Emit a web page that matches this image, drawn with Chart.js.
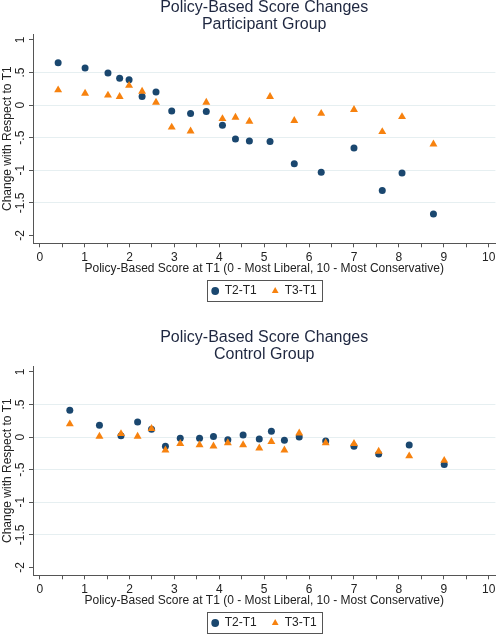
<!DOCTYPE html>
<html>
<head>
<meta charset="utf-8">
<script src="https://cdn.jsdelivr.net/npm/chart.js@4"></script>
<style>
html, body { margin: 0; padding: 0; background: #fff; width: 500px; height: 636px; overflow: hidden; }
.panel { position: absolute; left: 0; width: 500px; height: 345px; }
#p1 { top: -28px; }
#p2 { top: 304px; }
</style>
</head>
<body>
<div class="panel" id="p1"><canvas id="c1" width="500" height="345"></canvas></div>
<div class="panel" id="p2"><canvas id="c2" width="500" height="345"></canvas></div>
<script>
// participant group (top panel)
const partScore = [0.41, 1.01, 1.52, 1.78, 1.99, 2.28, 2.59, 2.94, 3.36, 3.71, 4.07, 4.36, 4.67, 5.13, 5.67, 6.27, 7.00, 7.63, 8.07, 8.77]
const partT2 = [0.65, 0.57, 0.49, 0.41, 0.39, 0.13, 0.20, -0.09, -0.13, -0.10, -0.31, -0.52, -0.55, -0.56, -0.90, -1.03, -0.66, -1.31, -1.04, -1.67]
const partT3 = [0.23, 0.18, 0.15, 0.13, 0.30, 0.21, 0.04, -0.34, -0.40, 0.04, -0.21, -0.19, -0.25, 0.13, -0.24, -0.13, -0.07, -0.41, -0.18, -0.60]

// control group (bottom panel)
const ctrlScore = [0.67, 1.33, 1.81, 2.18, 2.49, 2.80, 3.13, 3.56, 3.87, 4.19, 4.53, 4.89, 5.16, 5.45, 5.78, 6.37, 7.00, 7.55, 8.23, 9.01]
const ctrlT2 = [0.41, 0.18, 0.02, 0.23, 0.12, -0.14, -0.02, -0.02, 0.01, -0.04, 0.03, -0.03, 0.09, -0.05, 0.00, -0.06, -0.14, -0.26, -0.12, -0.42]
const ctrlT3 = [0.20, 0.01, 0.05, 0.01, 0.13, -0.20, -0.10, -0.12, -0.14, -0.09, -0.12, -0.17, -0.07, -0.20, 0.06, -0.09, -0.10, -0.22, -0.29, -0.36]

const xTicks = [0, 0.5, 1, 1.5, 2, 2.5, 3, 3.5, 4, 4.5, 5, 5.5, 6, 6.5, 7, 7.5, 8, 8.5, 9, 9.5, 10]
const xTickLabels = ['0', '', '1', '', '2', '', '3', '', '4', '', '5', '', '6', '', '7', '', '8', '', '9', '', '10']
const yTicks = [-2, -1.5, -1, -0.5, 0, 0.5, 1]
const yTickLabels = ['-2', '-1.5', '-1', '-.5', '0', '.5', '1']

const FONT = "'Liberation Sans', Arial, sans-serif"
const NAVY = '#1a476f'
const ORANGE = '#f7820f'
const AXIS = '#555'
const GRID = '#e6eff1'
const TXT = '#222'

// stata-style frame around the legend
const legendBox = {
  id: 'legendBox',
  afterDraw(chart) {
    const hb = chart.legend.legendHitBoxes
    if (!hb || !hb.length) return
    const last = hb[hb.length - 1]
    const l = Math.round(hb[0].left - 5) + 0.5
    const r = Math.round(last.left + last.width + 5) + 0.5
    const cy = Math.round(hb[0].top + hb[0].height / 2)
    const ctx = chart.ctx
    ctx.save()
    ctx.strokeStyle = '#555'
    ctx.lineWidth = 1
    ctx.strokeRect(l, cy - 10.5, r - l, 21)
    ctx.restore()
  }
}

function makeChart(id, subtitle, xs, t2, t3, titleShift) {
  return new Chart(document.getElementById(id), {
    type: 'scatter',
    data: {
      datasets: [
        {
          label: 'T2-T1',
          data: xs.map((x, i) => ({x: x, y: t2[i]})),
          pointStyle: 'circle',
          pointRadius: 3.5,
          backgroundColor: NAVY,
          borderWidth: 0,
          order: 1
        },
        {
          label: 'T3-T1',
          data: xs.map((x, i) => ({x: x, y: t3[i]})),
          pointStyle: 'triangle',
          pointRadius: 4.6,
          backgroundColor: ORANGE,
          borderWidth: 0,
          order: 0
        }
      ]
    },
    options: {
      responsive: false,
      animation: false,
      layout: {padding: {left: 0, right: 3, top: 0, bottom: 10}},
      plugins: {
        title: {
          display: true,
          fullSize: false,
          text: ['Policy-Based Score Changes', subtitle],
          color: '#1e2740',
          font: {family: FONT, size: 16, weight: 'normal', lineHeight: 1.0625},
          padding: {top: 25.2 + titleShift, bottom: 2.8 - titleShift}
        },
        legend: {
          position: 'bottom',
          fullSize: false,
          labels: {
            usePointStyle: true,
            boxWidth: 7,
            boxHeight: 5.5,
            padding: 15,
            color: TXT,
            font: {family: FONT, size: 12},
            sort: (a, b) => a.datasetIndex - b.datasetIndex
          }
        },
        tooltip: {enabled: false}
      },
      scales: {
        x: {
          type: 'linear',
          min: -0.15,
          max: 10.15,
          afterBuildTicks: s => { s.ticks = xTicks.map(v => ({value: v})) },
          afterFit: s => { s.height = 26.7 },
          ticks: {
            autoSkip: false,
            maxRotation: 0,
            padding: 3,
            color: TXT,
            font: {family: FONT, size: 12},
            callback: (v, i) => xTickLabels[i]
          },
          grid: {drawOnChartArea: false, tickLength: 4, tickColor: AXIS},
          border: {color: AXIS},
          title: {
            display: true,
            text: 'Policy-Based Score at T1 (0 - Most Liberal, 10 - Most Conservative)',
            color: TXT,
            font: {family: FONT, size: 12},
            padding: {top: 0, bottom: -6}
          }
        },
        y: {
          min: -2.12,
          max: 1.09,
          afterBuildTicks: s => { s.ticks = yTicks.map(v => ({value: v})) },
          afterFit: s => { s.width = 33 },
          ticks: {
            autoSkip: false,
            minRotation: 90,
            maxRotation: 90,
            crossAlign: 'center',
            padding: -2,
            color: TXT,
            font: {family: FONT, size: 12},
            callback: (v, i) => yTickLabels[i]
          },
          grid: {
            color: c => (c.tick && (c.tick.value === 1 || c.tick.value === -2)) ? 'rgba(0,0,0,0)' : GRID,
            tickLength: 4,
            tickColor: AXIS
          },
          border: {color: AXIS},
          title: {
            display: true,
            text: 'Change with Respect to T1',
            color: TXT,
            font: {family: FONT, size: 12},
            padding: 0
          }
        }
      }
    },
    plugins: [legendBox]
  })
}

makeChart('c1', 'Participant Group', partScore, partT2, partT3, 2)
makeChart('c2', 'Control Group', ctrlScore, ctrlT2, ctrlT3, 0)
</script>
</body>
</html>
